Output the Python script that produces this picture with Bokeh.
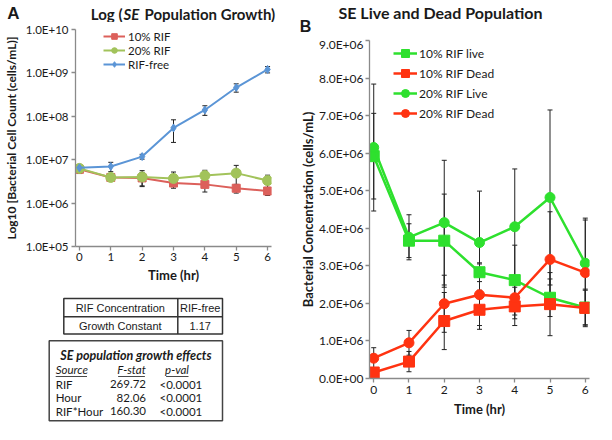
from bokeh.plotting import figure
from bokeh.models import (Range1d, FixedTicker, Whisker, ColumnDataSource, Legend,
                          LegendItem, TeeHead)
from bokeh.layouts import row, column
from bokeh.embed import file_html
from bokeh.resources import INLINE
from bokeh.core.properties import value

# ---------------- data ----------------
hours = [0, 1, 2, 3, 4, 5, 6]

# Panel A: log population growth (cells/mL)
a_names = ["10% RIF", "20% RIF", "RIF-free"]
a_rif10 = [6.0e6, 3.9e6, 3.8e6, 2.9e6, 2.7e6, 2.2e6, 1.9e6]
a_rif10_err = [1.2e6, 0.3e6, 1.3e6, 0.5e6, 0.9e6, 0.5e6, 0.4e6]
a_rif20 = [6.3e6, 3.9e6, 4.0e6, 3.7e6, 4.3e6, 4.9e6, 3.3e6]
a_rif20_err = [1.0e6, 0.3e6, 1.6e6, 1.5e6, 1.4e6, 2.5e6, 1.1e6]
a_free = [6.5e6, 7.0e6, 1.18e7, 5.4e7, 1.4e8, 4.6e8, 1.2e9]
a_free_err = [0.8e6, 1.7e6, 1.5e6, 2.9e7, 3.5e7, 1.0e8, 2.0e8]
a_yticks = [1e5, 1e6, 1e7, 1e8, 1e9, 1e10]
a_ytick_labels = ["1.0E+05", "1.0E+06", "1.0E+07", "1.0E+08", "1.0E+09", "1.0E+10"]

# Panel B: live and dead population (cells/mL)
b_names = ["10% RIF live", "10% RIF Dead", "20% RIF Live", "20% RIF Dead"]
b_live10 = [5.92e6, 3.67e6, 3.67e6, 2.83e6, 2.62e6, 2.15e6, 1.89e6]
b_live10_err = [1.14e6, 0.45e6, 1.24e6, 0.25e6, 0.93e6, 0.50e6, 0.46e6]
b_dead10 = [0.16e6, 0.45e6, 1.53e6, 1.83e6, 1.92e6, 1.98e6, 1.88e6]
b_dead10_err = [0.10e6, 0.27e6, 0.76e6, 0.52e6, 0.51e6, 0.84e6, 0.50e6]
b_live20 = [6.15e6, 3.76e6, 4.15e6, 3.62e6, 4.04e6, 4.82e6, 3.07e6]
b_live20_err = [1.69e6, 0.60e6, 1.66e6, 1.37e6, 1.54e6, 2.33e6, 1.20e6]
b_dead20 = [0.54e6, 0.95e6, 1.99e6, 2.23e6, 2.15e6, 3.17e6, 2.82e6]
b_dead20_err = [0.28e6, 0.33e6, 0.76e6, 0.82e6, 0.56e6, 1.27e6, 1.40e6]
b_yticks = [0, 1e6, 2e6, 3e6, 4e6, 5e6, 6e6, 7e6, 8e6, 9e6]
b_ytick_labels = ["0.0E+00", "1.0E+06", "2.0E+06", "3.0E+06", "4.0E+06",
                  "5.0E+06", "6.0E+06", "7.0E+06", "8.0E+06", "9.0E+06"]

# Titles
a_title = ["Log (", "SE", "Population Growth)"]
b_title = "SE Live and Dead Population"
panel_letters = ["A", "B"]

# Tables
t1_header = ["RIF Concentration", "RIF-free"]
t1_row = ["Growth Constant", "1.17"]
t2_title = "SE population growth effects"
t2_columns = ["Source", "F-stat", "p-val"]
t2_source = ["RIF", "Hour", "RIF*Hour"]
t2_fstat = ["269.72", "82.06", "160.30"]
t2_pval = ["<0.0001", "<0.0001", "<0.0001"]

FONT = "Lato"
AXIS_GRAY = "#8a8a8a"
TEXT = "#1a1a1a"


def style_axes(p, tick_size="11.5px", label_size="13px"):
    p.xgrid.visible = False
    p.ygrid.visible = False
    p.outline_line_color = None
    for ax in p.axis:
        ax.axis_line_color = AXIS_GRAY
        ax.axis_line_width = 1.3
        ax.major_tick_line_color = AXIS_GRAY
        ax.major_tick_line_width = 1.3
        ax.major_tick_out = 4
        ax.major_tick_in = 0
        ax.minor_tick_line_color = None
        ax.major_label_text_font = FONT
        ax.major_label_text_font_size = tick_size
        ax.major_label_text_color = TEXT
        ax.major_label_standoff = 3
        ax.axis_label_text_font = FONT
        ax.axis_label_text_font_size = label_size
        ax.axis_label_text_font_style = "bold"
        ax.axis_label_text_color = TEXT
        ax.axis_label_standoff = 4


def add_series(p, y, err, color, marker, size, lw, name, head=5):
    src = ColumnDataSource(dict(x=hours, y=y,
                                upper=[a + b for a, b in zip(y, err)],
                                lower=[a - b for a, b in zip(y, err)]))
    w = Whisker(source=src, base="x", upper="upper", lower="lower",
                line_color="#222222", line_width=1,
                upper_head=TeeHead(size=head, line_color="#222222", line_width=1),
                lower_head=TeeHead(size=head, line_color="#222222", line_width=1))
    p.add_layout(w)
    l = p.line("x", "y", source=src, line_color=color, line_width=lw)
    s = p.scatter("x", "y", source=src, marker=marker, size=size,
                  fill_color=color, line_color=color)
    return LegendItem(label=name, renderers=[l, s])


def strip(width, height):
    """A blank figure whose data units are its own pixels (y downward)."""
    s = figure(width=width, height=height,
               x_range=Range1d(0, width), y_range=Range1d(height, 0),
               x_axis_type=None, y_axis_type=None, output_backend="svg",
               toolbar_location=None, min_border=0, min_border_left=0,
               min_border_right=0, min_border_top=0, min_border_bottom=0,
               frame_align=False)
    s.outline_line_color = None
    s.background_fill_color = None
    s.border_fill_color = None
    return s


def txt(p, x, y, texts, size, style="normal", align="left", font=FONT):
    p.text(x=x, y=y, text=texts, text_font=value(font), text_font_size=size,
           text_font_style=style, text_align=align, text_baseline="middle",
           text_color=TEXT)


# ---------------- Panel A header ----------------
HA_H = 22
hA = strip(296, HA_H)
txt(hA, [13], [13], [panel_letters[0]], "17px", "bold", "center", "Liberation Sans")
txt(hA, [122], [13.5], [a_title[0]], "15px", "bold", "right")
txt(hA, [123], [13.5], [a_title[1]], "15px", "bold italic", "left")
txt(hA, [144], [13.5], [a_title[2]], "15px", "bold", "left")

# ---------------- Panel A ----------------
A_W, A_H = 296, 268
A_FL, A_FR, A_FT, A_FB = 71, 271, 7, 224  # frame edges inside pA
pA = figure(width=A_W, height=A_H, x_range=Range1d(-0.125, 6.125),
            y_range=Range1d(1e5, 1e10), y_axis_type="log",
            output_backend="svg", toolbar_location=None, frame_align=False,
            min_border_left=A_FL, min_border_right=A_W - A_FR,
            min_border_top=A_FT, min_border_bottom=A_H - A_FB)
style_axes(pA)
pA.xaxis.ticker = FixedTicker(ticks=hours)
pA.yaxis.ticker = FixedTicker(ticks=a_yticks)
pA.yaxis.major_label_overrides = dict(zip(a_yticks, a_ytick_labels))
pA.xaxis.axis_label = "Time (hr)"
pA.yaxis.axis_label = "Log10 [Bacterial Cell Count (cells/mL)]"
pA.yaxis.axis_label_text_font_size = "12px"
pA.xaxis.major_label_standoff = 2
pA.xaxis.axis_label_standoff = 3

itemsA = [
    add_series(pA, a_rif10, a_rif10_err, "#DC605B", "square", 8, 2, a_names[0]),
    add_series(pA, a_rif20, a_rif20_err, "#A2C35B", "circle", 10, 2, a_names[1]),
    add_series(pA, a_free, a_free_err, "#5B95D6", "diamond", 8, 2, a_names[2]),
]
legA = Legend(items=itemsA, location=(28, (A_FB - A_FT) - 42),
              border_line_color=None, background_fill_alpha=0,
              label_text_font=FONT, label_text_font_size="11.5px", label_text_color=TEXT,
              glyph_width=22, glyph_height=14, label_height=14, spacing=0,
              padding=0, margin=0, label_standoff=3)
pA.add_layout(legA)

# ---------------- Tables ----------------
T_W, T_H = 296, 134
pT = strip(T_W, T_H)
pT.quad(left=[63.3], right=[222], top=[8], bottom=[43.6], fill_color=None,
        line_color="#333333", line_width=1.5)
pT.segment(x0=[177.3, 63.3], y0=[8, 26.2], x1=[177.3, 222], y1=[43.6, 26.2],
           line_color="#333333", line_width=1.5)
txt(pT, [119.8, 199.7], [17.6, 17.6], t1_header, "11px", align="center",
    font="Liberation Sans")
txt(pT, [119.8, 199.7], [35.9, 35.9], t1_row, "11px", align="center",
    font="Liberation Sans")

pT.quad(left=[48.7], right=[222], top=[50.3], bottom=[130.3], fill_color=None,
        line_color="#444444", line_width=1.5)
txt(pT, [135.4], [64.6], [t2_title], "12.5px", "bold italic", "center")
txt(pT, [55.2], [79.2], t2_columns[:1], "11.5px", "italic", "left")
txt(pT, [131, 176.5], [79.2, 79.2], t2_columns[1:], "11.5px", "italic", "center")
pT.segment(x0=[55.2, 117.6, 165.6], y0=[86] * 3, x1=[86.5, 144.4, 188], y1=[86] * 3,
           line_color=TEXT, line_width=0.8)
row_y = [93.7, 107.2, 120.7]
txt(pT, [55.2] * 3, row_y, t2_source, "11.5px", align="left")
txt(pT, [145.5] * 3, row_y, t2_fstat, "11.5px", align="right")
txt(pT, [159] * 3, row_y, t2_pval, "11.5px", align="left")

# ---------------- Panel B header ----------------
HB_H = 36
hB = strip(300, HB_H)
txt(hB, [144], [12], [b_title], "16px", "bold", "center")
txt(hB, [9], [25.5], [panel_letters[1]], "16px", "bold", "center", "Liberation Sans")

# ---------------- Panel B ----------------
B_W, B_H = 300, 388
B_FL, B_FR, B_FT, B_FB = 66, 293, 4, 342
pB = figure(width=B_W, height=B_H, x_range=Range1d(-0.12, 6.12), y_range=Range1d(0, 9e6),
            output_backend="svg", toolbar_location=None, frame_align=False,
            min_border_left=B_FL, min_border_right=B_W - B_FR,
            min_border_top=B_FT, min_border_bottom=B_H - B_FB)
style_axes(pB, tick_size="12px")
pB.xaxis.ticker = FixedTicker(ticks=hours)
pB.yaxis.ticker = FixedTicker(ticks=b_yticks)
pB.yaxis.major_label_overrides = dict(zip(b_yticks, b_ytick_labels))
pB.xaxis.axis_label = "Time (hr)"
pB.yaxis.axis_label = "Bacterial Concentration (cells/mL)"
pB.yaxis.major_label_standoff = 2
pB.yaxis.axis_label_standoff = 0

GREEN = "#2EE02E"
RED = "#FF3311"
itemsB = [
    add_series(pB, b_live10, b_live10_err, GREEN, "square", 11, 2.5, b_names[0]),
    add_series(pB, b_dead10, b_dead10_err, RED, "square", 11, 2.5, b_names[1]),
    add_series(pB, b_live20, b_live20_err, GREEN, "circle", 10, 2.5, b_names[2]),
    add_series(pB, b_dead20, b_dead20_err, RED, "circle", 10, 2.5, b_names[3]),
]
legB = Legend(items=itemsB, location=(24, (B_FB - B_FT) - 83),
              border_line_color=None, background_fill_alpha=0,
              label_text_font=FONT, label_text_font_size="12px", label_text_color=TEXT,
              glyph_width=24, glyph_height=20, label_height=20, spacing=0,
              padding=0, margin=0, label_standoff=2)
pB.add_layout(legB)

layout = row(column(hA, pA, pT), column(hB, pB))
open("out.html", "w").write(file_html(layout, INLINE))
